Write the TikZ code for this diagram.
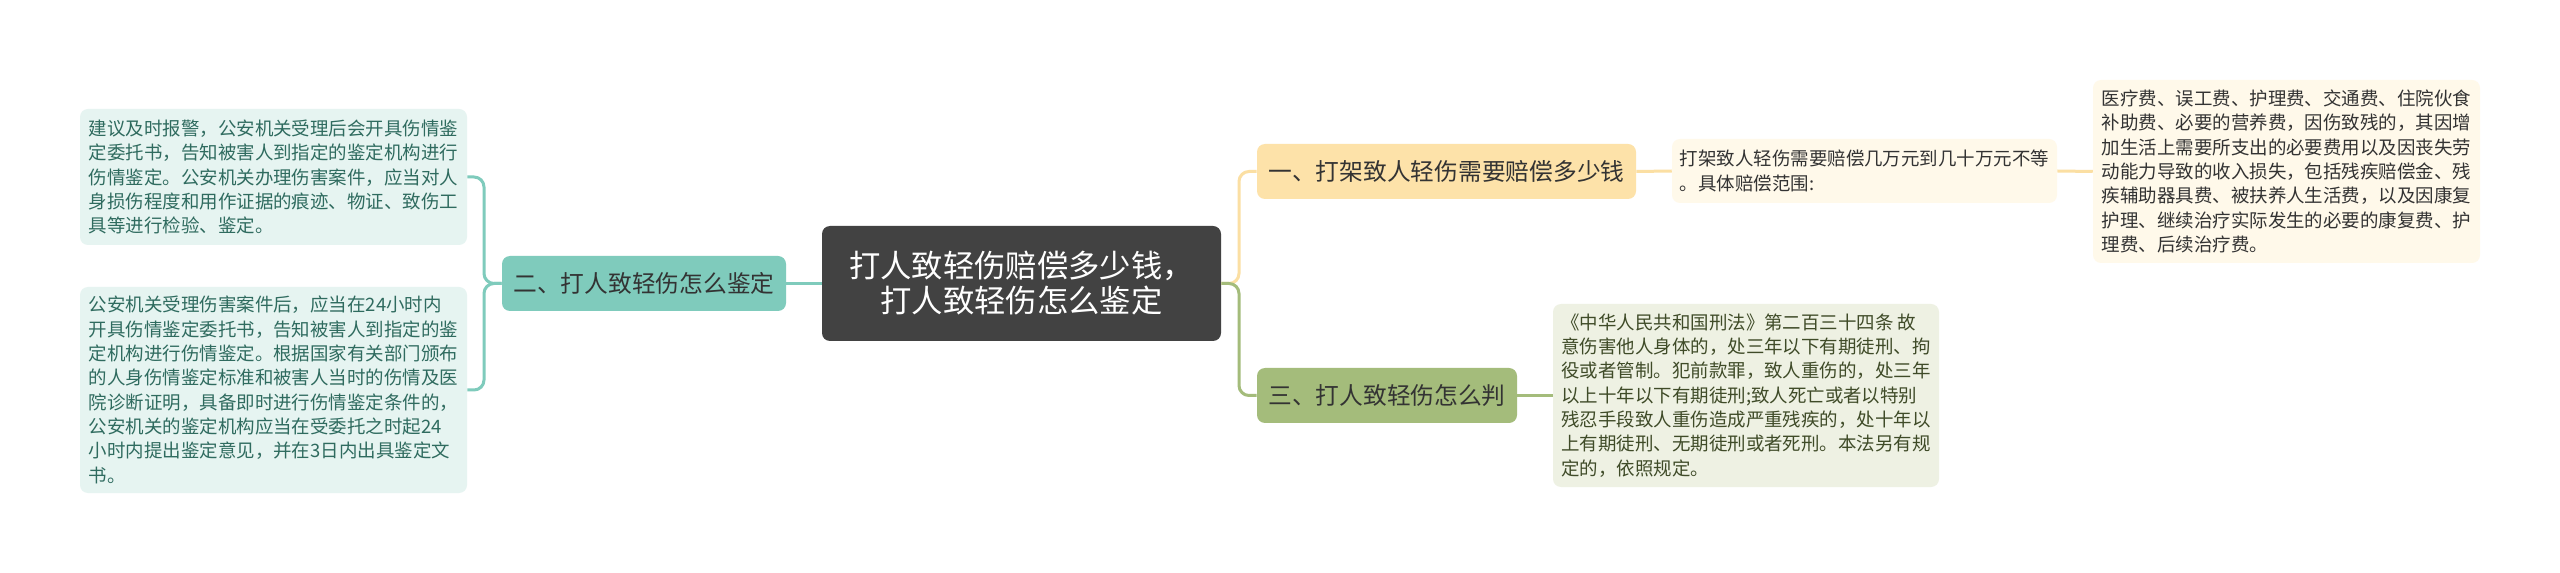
\documentclass[tikz,border=0pt]{standalone}
\usepackage{fontspec}
\setmainfont{Noto Sans CJK SC}
\definecolor{cCentral}{HTML}{424242}
\definecolor{cTeal}{HTML}{7FCBBC}
\definecolor{cTealLeaf}{HTML}{E6F4F1}
\definecolor{cTealText}{HTML}{2F6B5F}
\definecolor{cYellow}{HTML}{FDE2A9}
\definecolor{cYellowLine}{HTML}{FBDFA3}
\definecolor{cCream}{HTML}{FFF9EA}
\definecolor{cGreen}{HTML}{A4BC7B}
\definecolor{cGreenLeaf}{HTML}{EEF1E3}
\definecolor{cGreenText}{HTML}{3F4B28}
\definecolor{cDark}{HTML}{333333}
\begin{document}
\begin{tikzpicture}[x=0.75pt,y=-0.75pt,
  centralbox/.style={fill=cCentral,text=white,rounded corners=6pt,inner sep=0pt,align=center,
    font=\fontsize{23.5pt}{26.25pt}\selectfont},
  branchbox/.style={rounded corners=6pt,inner sep=0pt,text=cDark,
    font=\fontsize{17.8pt}{21pt}\selectfont,minimum height=41.25pt},
  leafbox/.style={rounded corners=6pt,inner sep=0pt,align=left,
    font=\fontsize{13.85pt}{18.25pt}\selectfont},
  lnT/.style={draw=cTeal,line width=2.25pt,rounded corners=7.5pt},
  lnY/.style={draw=cYellowLine,line width=2.25pt,rounded corners=7.5pt},
  lnG/.style={draw=cGreen,line width=2.25pt,rounded corners=7.5pt}]
\useasboundingbox[fill=white] (0,0) rectangle (2560,573);

% central
\node[centralbox,minimum width=299.25pt,minimum height=86.25pt] (C) at (1021.5,283.5)
  {打人致轻伤赔偿多少钱，\\打人致轻伤怎么鉴定};

% left branch
\node[branchbox,fill=cTeal,minimum width=213pt] (Lb) at (644,283.5) {二、打人致轻伤怎么鉴定};
\node[leafbox,fill=cTealLeaf,text=cTealText,minimum width=290.25pt,minimum height=102pt] (L1) at (273.5,177)
  {建议及时报警，公安机关受理后会开具伤情鉴\\
定委托书，告知被害人到指定的鉴定机构进行\\
伤情鉴定。公安机关办理伤害案件，应当对人\\
身损伤程度和用作证据的痕迹、物证、致伤工\\
具等进行检验、鉴定。};
\node[leafbox,fill=cTealLeaf,text=cTealText,minimum width=290.25pt,minimum height=154.5pt] (L2) at (273.5,390)
  {公安机关受理伤害案件后，应当在24小时内\\
开具伤情鉴定委托书，告知被害人到指定的鉴\\
定机构进行伤情鉴定。根据国家有关部门颁布\\
的人身伤情鉴定标准和被害人当时的伤情及医\\
院诊断证明，具备即时进行伤情鉴定条件的，\\
公安机关的鉴定机构应当在受委托之时起24\\
小时内提出鉴定意见，并在3日内出具鉴定文\\
书。};

% right branch 1
\node[branchbox,fill=cYellow,minimum width=284.25pt] (R1) at (1446.5,171.5) {一、打架致人轻伤需要赔偿多少钱};
\node[leafbox,fill=cCream,text=cDark,minimum width=288.75pt,minimum height=48pt] (R1a) at (1864.5,171)
  {打架致人轻伤需要赔偿几万元到几十万元不等\\
。具体赔偿范围:};
\node[leafbox,fill=cCream,text=cDark,minimum width=290.25pt,minimum height=137.25pt] (R1b) at (2286.5,171.5)
  {医疗费、误工费、护理费、交通费、住院伙食\\
补助费、必要的营养费，因伤致残的，其因增\\
加生活上需要所支出的必要费用以及因丧失劳\\
动能力导致的收入损失，包括残疾赔偿金、残\\
疾辅助器具费、被扶养人生活费，以及因康复\\
护理、继续治疗实际发生的必要的康复费、护\\
理费、后续治疗费。};

% right branch 3
\node[branchbox,fill=cGreen,minimum width=195pt] (R3) at (1387,395.5) {三、打人致轻伤怎么判};
\node[leafbox,fill=cGreenLeaf,text=cGreenText,minimum width=289.5pt,minimum height=137.25pt] (R3a) at (1746,395.5)
  {《中华人民共和国刑法》第二百三十四条 故\\
意伤害他人身体的，处三年以下有期徒刑、拘\\
役或者管制。犯前款罪，致人重伤的，处三年\\
以上十年以下有期徒刑;致人死亡或者以特别\\
残忍手段致人重伤造成严重残疾的，处十年以\\
上有期徒刑、无期徒刑或者死刑。本法另有规\\
定的，依照规定。};

% junctions
\coordinate (jl) at (484,283.5);
\coordinate (jr) at (1239,283.5);

% connectors
\draw[lnT] (C.west) -- (Lb.east);
\draw[lnT] (Lb.west) -- (jl) |- (L1.east);
\draw[lnT] (Lb.west) -- (jl) |- (L2.east);
\draw[lnY] (C.east) -- (jr) |- (R1.west);
\draw[lnG] (C.east) -- (jr) |- (R3.west);
\draw[lnY] (R1.east) -- (R1a.west);
\draw[lnY] (R1a.east) -- (R1b.west);
\draw[lnG] (R3.east) -- (R3a.west);
\end{tikzpicture}
\end{document}
